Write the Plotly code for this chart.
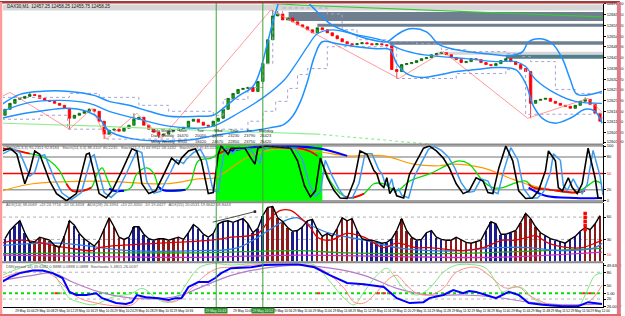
import plotly.graph_objects as go

# ---------------- data ----------------
TIME_LABELS = ["29 May 10:00", "29 May 10:04", "29 May 10:08", "29 May 10:12", "29 May 10:16",
               "29 May 10:20", "29 May 10:24", "29 May 10:28", "29 May 10:32", "29 May 10:36",
               "29 May 10:48", "29 May 10:56",
               "29 May 11:00", "29 May 11:04", "29 May 11:08", "29 May 11:12", "29 May 11:16",
               "29 May 11:20", "29 May 11:24", "29 May 11:28", "29 May 11:32", "29 May 11:36",
               "29 May 11:40", "29 May 11:44", "29 May 11:48", "29 May 11:52", "29 May 11:56",
               "29 May 12:00"]
TICK_POS = [0, 4, 8, 12, 16, 20, 24, 28, 32, 36, 48, 56, 60, 64, 68, 72, 76,
            80, 84, 88, 92, 96, 100, 104, 108, 112, 116, 120]

OPEN0 = 12614.5
CLOSE = [12617.5, 12620.5, 12622.5, 12623.0, 12624.0, 12625.0, 12624.5, 12623.0, 12622.0, 12621.5,
         12620.5, 12619.5, 12618.0, 12613.0, 12614.5, 12615.5, 12616.5, 12617.5, 12616.5, 12611.5,
         12605.0, 12607.0, 12607.5, 12606.5, 12608.0, 12609.5, 12612.5, 12613.5, 12609.5, 12607.5,
         12606.0, 12604.5, 12605.0, 12606.5, 12607.0, 12607.5, 12608.5, 12611.5, 12612.5, 12611.0,
         12609.5, 12609.0, 12611.5, 12613.0, 12617.5, 12623.0, 12625.5, 12627.5, 12628.0, 12628.5,
         12626.5, 12631.5, 12640.5, 12652.5, 12664.5, 12665.5, 12662.5, 12663.5, 12661.5, 12660.0,
         12659.0, 12657.5, 12656.0, 12658.5, 12657.5, 12656.0, 12654.5, 12653.0, 12651.5, 12650.5,
         12650.0, 12650.5, 12651.0, 12650.5, 12650.0, 12650.5, 12650.0, 12649.5, 12637.5, 12636.5,
         12640.0, 12640.5, 12641.0, 12642.0, 12643.0, 12643.5, 12645.0, 12645.5, 12646.0, 12645.0,
         12643.5, 12642.5, 12641.0, 12641.5, 12643.0, 12642.5, 12641.0, 12640.0, 12639.5, 12640.5,
         12642.0, 12643.0, 12641.5, 12640.0, 12638.0, 12636.5, 12620.5, 12622.0, 12622.5, 12623.0,
         12621.5, 12620.5, 12619.5, 12619.0, 12618.0, 12619.5, 12621.5, 12622.5, 12620.0, 12615.5,
         12611.5]
WICK_HIGH = {5: 12626.0, 17: 12618.0, 26: 12615.5, 54: 12667.5, 55: 12667.0, 88: 12646.5, 117: 12623.5}
WICK_LOW = {13: 12607.5, 20: 12602.5, 31: 12603.0, 79: 12633.0, 106: 12613.0}

PRICE_TICKS = [12670.5, 12665.1, 12659.7, 12654.3, 12648.9, 12643.5, 12638.1, 12632.7,
               12627.3, 12621.9, 12616.5, 12611.1, 12605.7, 12601.0]

BAND_UP = [(-0.6, 12620.0), (3, 12625.0), (7, 12626.5), (13, 12626.5), (18, 12624.5), (21, 12621.5),
           (25, 12619.5), (29, 12616.5), (33, 12614.0), (39, 12614.0), (42, 12614.5), (44, 12618.0),
           (47, 12624.0), (50, 12629.0), (51.4, 12636.5), (53, 12651.5), (54.6, 12666.5), (56.2, 12675.5),
           (60, 12675.5), (61.6, 12670.0), (63, 12666.5), (65.6, 12660.5), (69, 12656.5), (73, 12653.0),
           (77, 12651.5), (79, 12655.0), (81.6, 12658.0), (85, 12656.5), (87.6, 12650.0), (91, 12647.5),
           (97, 12645.5), (102, 12644.5), (104.4, 12646.5), (105.6, 12651.5), (108, 12653.0),
           (110.4, 12650.5), (112.4, 12643.0), (114, 12632.5), (115.4, 12625.0), (120.4, 12626.5)]
BAND_LO = [(-0.6, 12613.0), (3, 12615.0), (7, 12616.5), (12.4, 12618.0), (16.4, 12616.5), (19, 12613.0),
           (21, 12606.5), (25, 12603.0), (31, 12601.5), (37, 12602.0), (41.6, 12604.0), (45, 12605.5),
           (49, 12606.5), (52, 12607.5), (54, 12608.5), (56, 12609.5), (58, 12614.0), (59.6, 12621.5),
           (61, 12631.5), (62.4, 12644.0), (64, 12651.5), (67, 12650.5), (71, 12649.0), (75, 12648.0),
           (77.6, 12647.5), (79, 12640.5), (81, 12635.5), (84, 12633.5), (87, 12634.5), (91, 12636.5),
           (95, 12637.5), (99, 12638.5), (103, 12637.5), (105, 12630.5), (106.6, 12619.0),
           (108.6, 12612.5), (111, 12610.5), (114, 12613.0), (117, 12617.5), (119, 12616.5), (120.4, 12610.5)]
BAND_MID = [(-0.6, 12616.5), (5, 12621.0), (11, 12622.0), (17, 12620.5), (21, 12616.5), (27, 12612.5),
            (33, 12609.0), (39, 12608.0), (42, 12609.0), (47, 12615.5), (52.4, 12624.0), (56.4, 12632.5),
            (59, 12641.5), (61, 12649.0), (63, 12655.5), (66, 12657.5), (71, 12655.0), (77, 12651.5),
            (79, 12648.5), (83, 12645.5), (88, 12644.0), (93, 12643.0), (99, 12641.5), (103, 12641.5),
            (105, 12639.0), (107, 12632.5), (111, 12625.5), (115, 12621.5), (120.4, 12620.5)]
DON_UP = [(-0.6, 12623.5), (13, 12625.5), (19, 12623.5), (27, 12619.5), (33, 12616.5), (42, 12614.5),
          (44, 12622.5), (49, 12628.5), (52, 12640.5), (54, 12665.5), (56, 12668.5), (63, 12668.5),
          (65, 12665.5), (68, 12657.5), (71, 12652.5), (77, 12651.5), (83, 12650.5), (88, 12647.5),
          (93, 12646.5), (101, 12645.5), (104, 12644.0), (106, 12641.5), (111, 12627.5), (115, 12625.5),
          (120.4, 12623.5)]
DON_LO = [(-0.6, 12612.5), (7, 12614.5), (12.6, 12607.5), (19, 12607.5), (20.6, 12602.5), (39, 12603.5),
          (43, 12607.5), (49, 12611.5), (52, 12616.5), (54.6, 12621.5), (57, 12628.0), (59, 12635.0),
          (61, 12638.0), (65, 12649.0), (77, 12648.0), (79, 12633.0), (90, 12633.0), (91, 12635.5),
          (101, 12637.5), (105, 12615.0), (119, 12615.5), (120.4, 12612.5)]
ZIGZAG = [(-0.6, 12624.0), (1, 12626.0), (13, 12607.5), (17.6, 12618.0), (20.4, 12602.5), (26.6, 12615.5),
          (31.6, 12603.0), (53.6, 12667.5), (79.4, 12633.0), (88.4, 12646.5), (105.4, 12613.0),
          (117.6, 12623.0), (120.4, 12616.0)]
MA_SLOW = [(-0.6, 12610.5), (19, 12609.0), (39, 12607.0), (63, 12605.0)]
MA_SLOW_TAIL = [(63, 12605.0), (85.6, 12600.0)]
MA_TOP = [(52, 12671.0), (59, 12670.0), (120.4, 12664.0)]
ZONES = [  # (start index, top price, bottom price, colour kind)
    (-0.4, 12670.25, 12667.25, "light"),
    (57.2, 12666.5, 12662.0, "dark"),
    (63.0, 12660.5, 12659.0, "dark"),
    (77.6, 12651.75, 12650.0, "dark"),
    (87.0, 12646.5, 12645.0, "light"),
    (101.0, 12645.0, 12643.0, "teal"),
]
VLINES = [42.6, 52.0]
VLINE_LABELS = ["29 May 10:43", "29 May 10:52"]
GREEN_ZONE = (42.6, 64.0)

# stochastic panel
STO_K = [(-0.6, 91), (1, 96), (2.4, 85), (4, 31), (5, 55), (6, 91), (7, 85), (9, 36), (10.4, 13), (12.4, 0),
         (14.4, 13), (16.4, 85), (17, 87), (18.4, 31), (19, 13), (20.4, 5), (21.6, 18), (23.6, 55), (25.6, 95),
         (26.6, 91), (27.6, 31), (29, 13), (30.4, 18), (32.4, 55), (33.6, 78), (35, 67), (35.6, 78), (37, 91),
         (38.4, 95), (39.6, 73), (41, 13), (42, 15), (43, 85), (43.6, 100), (45, 85), (45.6, 96), (48.4, 96),
         (49.6, 78), (50.4, 67), (51, 96), (52.4, 100), (57.6, 96), (59, 73), (60.4, 27), (61.6, 7), (62.6, 18),
         (63.6, 78), (65, 42), (66.4, 18), (67.6, 5), (69, 4), (70.4, 36), (71.6, 91), (73, 85), (74.4, 55),
         (75, 49), (75.6, 31), (76.4, 24), (77, 42), (77.6, 13), (78.4, 24), (79, 9), (80.4, 5), (81.6, 49),
         (83, 73), (84.4, 96), (85.6, 100), (87, 91), (88.4, 78), (89.6, 60), (91, 31), (92.4, 13), (93.6, 18),
         (95, 42), (96.4, 36), (97.4, 15), (98.4, 13), (99.6, 60), (101, 100), (102.4, 73), (103.6, 18),
         (105, 4), (106.4, 5), (107.6, 18), (109, 55), (109.6, 91), (111, 73), (111.6, 24), (112.4, 18),
         (113.6, 42), (114.4, 24), (115.4, 13), (116.4, 31), (117.6, 96), (119, 42), (119.6, 5), (120.4, 4)]
STO_D = [(-0.6, 85), (1.5, 95), (3, 88), (5, 45), (6, 52), (7, 82), (8, 84), (10, 40), (11.5, 14), (13.4, 2),
         (15.4, 15), (17.4, 80), (18, 84), (19.4, 35), (20, 15), (21.4, 6), (22.6, 16), (24.6, 52), (26.6, 92),
         (27.6, 88), (28.6, 35), (30, 14), (31.4, 17), (33.4, 52), (34.6, 75), (36, 68), (36.6, 76), (38, 88),
         (39.4, 94), (40.6, 74), (42, 18), (43, 16), (44, 80), (44.6, 96), (46, 86), (46.6, 94), (49.4, 95),
         (50.6, 80), (51.4, 68), (52, 92), (53.4, 99), (58.6, 95), (60, 75), (61.4, 30), (62.6, 8), (63.6, 16),
         (64.6, 74), (66, 45), (67.4, 20), (68.6, 6), (70, 4), (71.4, 32), (72.6, 86), (74, 86), (75.4, 56),
         (76, 50), (76.6, 33), (77.4, 26), (78, 40), (78.6, 15), (79.4, 22), (80, 10), (81.4, 5), (82.6, 45),
         (84, 70), (85.4, 94), (86.6, 99), (88, 92), (89.4, 80), (90.6, 62), (92, 33), (93.4, 15), (94.6, 17),
         (96, 40), (97.4, 36), (98.4, 17), (99.4, 13), (100.6, 55), (102, 97), (103.4, 75), (104.6, 22),
         (106, 5), (107.4, 5), (108.6, 16), (110, 52), (110.6, 86), (112, 74), (112.6, 28), (113.4, 19),
         (114.6, 40), (115.4, 26), (116.4, 13), (117.4, 30), (118.6, 92), (120, 45), (120.6, 10)]
STO_SLOW = [(-0.6, 96), (2, 92), (5, 86), (7, 82), (9, 73), (11, 55), (12.4, 31), (13.6, 18), (15.6, 18),
            (17.4, 24), (18.6, 49), (19.6, 60), (20.6, 40), (21.4, 24), (22, 18), (24, 18), (25.4, 24),
            (26.6, 49), (28.6, 60), (30, 50), (31, 25), (32, 19), (36.4, 20), (37.4, 31), (39, 73), (41.6, 78),
            (43, 86), (45, 93), (48, 96), (53, 99), (58, 97), (60, 95), (63, 82), (65.6, 36), (67.6, 13),
            (69.6, 5), (72.4, 13), (74.4, 31), (76.4, 31), (79, 18), (81.6, 36), (85.6, 49), (89.6, 67),
            (91.6, 73), (93.6, 67), (96.4, 36), (98.4, 24), (100.4, 24), (102.4, 31), (105, 36), (106.6, 24),
            (110, 20), (115, 15), (117, 24), (119, 36), (120.4, 31)]
STO_SLOW_RED = [[(-0.6, 96), (2, 92), (5, 86)], [(12.4, 31), (13.6, 18), (15.6, 18), (17.4, 24)],
                [(43, 86), (45, 93), (47, 95)], [(59, 96), (60, 95), (61.6, 90), (63, 82)],
                [(68.6, 8), (69.6, 5), (72.4, 13)], [(105.6, 30), (106.6, 24), (110, 20), (115, 15), (117, 18)]]
STO_SLOW_BLUE = [[(21, 22), (22, 18), (24, 18)], [(31, 25), (32, 19), (36.4, 20)],
                 [(45.6, 91), (52.4, 100), (63, 96), (69, 82)], [(105.6, 24), (109, 9), (115, 5), (120.4, 5)]]
STO_ORANGE = [(-0.6, 18), (5.6, 31), (19, 36), (32.4, 31), (39, 40), (42.4, 42), (45.6, 60), (49, 80),
              (52.4, 91), (57, 95), (63, 90), (69, 82), (76.4, 82), (82.4, 67), (87.6, 64), (90.4, 67),
              (96.4, 60), (101.6, 42), (105, 31), (109, 22)]
STO_LEVELS = [100, 80, 20, 0]
STO_MID = 50

# histogram panel
HIST = [31, 42, 49, 55, 39, 26, 27, 33, 31, 29, 22, 19, 35, 55, 49, 38, 31, 26, 21, 29,
        45, 59, 47, 33, 30, 33, 47, 47, 37, 31, 29, 31, 31, 29, 31, 33, 30, 39, 50, 45,
        37, 33, 38, 51, 54, 55, 53, 55, 58, 51, 39, 45, 62, 73, 74, 59, 54, 46, 41, 42,
        47, 55, 57, 43, 34, 38, 34, 45, 59, 55, 58, 42, 31, 29, 29, 27, 25, 26, 31, 42,
        58, 42, 33, 29, 30, 39, 42, 33, 30, 29, 29, 33, 30, 26, 25, 27, 29, 42, 54, 51,
        37, 37, 39, 42, 53, 65, 58, 47, 39, 35, 31, 29, 27, 25, 30, 34, 41, 46, 43, 51, 62]
HIST_RUNS = [("b", 6), ("r", 8), ("b", 5), ("r", 6), ("b", 6), ("r", 6), ("b", 16), ("r", 5), ("b", 5),
             ("r", 8), ("b", 8), ("r", 4), ("b", 6), ("r", 8), ("b", 6), ("r", 6), ("b", 8), ("r", 4)]
HIST_RED = [(-0.6, 25), (3, 29), (12.4, 19), (17.6, 15), (19, 19), (41.6, 29), (45.6, 33), (51, 38),
            (53.6, 59), (55.6, 69), (57.6, 69), (59.6, 59), (61.6, 46), (63, 33), (65.6, 29), (69, 38),
            (72.4, 33), (76.4, 19), (79, 25), (83, 19), (85.6, 19), (92.4, 15), (96.4, 19), (100.4, 29),
            (103, 29), (105.6, 33), (107, 35), (109.6, 25), (113.6, 19), (116.4, 19), (119, 25), (120.4, 29)]
HIST_BLUE = [(-0.6, 22), (11, 25), (25, 15), (39, 15), (47, 19), (56.4, 55), (59, 59), (61.6, 49),
             (65.6, 38), (72.4, 29), (79, 19), (85.6, 15), (92.4, 15), (99, 19), (105.6, 19), (112.4, 15),
             (119, 19), (120.4, 25)]
HIST_GREEN = [(-0.6, 11), (19, 12), (39, 12), (59, 15), (69, 12), (89, 11), (109, 15), (120.4, 18)]
HIST_MAGENTA = [(-0.6, 9), (19, 7), (39, 6), (59, 9), (79, 7), (99, 6), (120.4, 13)]
HIST_MARKS = [(117, 64.7), (117, 59.3), (117, 54.0), (117, 48.7), (117, 43.3)]
HIST_ARROW = ((41.6, 52.7), (50.4, 67.3))

# bottom panel
LOW_BLUE = [(-0.6, 58), (1, 69), (3, 78), (5.6, 84), (7.6, 84), (9.6, 78), (11.6, 67), (13, 36), (14.4, 29),
            (16.4, 29), (18.4, 33), (19.6, 22), (22.4, 11), (24.4, 9), (25.6, 13), (26.6, 29), (28.4, 24),
            (31, 22), (33, 18), (34.4, 22), (35.6, 22), (37, 47), (39, 58), (41, 58), (42.4, 67), (43.6, 78),
            (45.6, 89), (49.6, 91), (52.4, 96), (56.4, 98), (59, 98), (62.4, 91), (65.6, 73), (69, 56),
            (72.4, 53), (76.4, 47), (77.6, 36), (79, 22), (81.6, 11), (84.4, 13), (85.6, 22), (88.4, 29),
            (90.4, 40), (92.4, 33), (93.6, 38), (95, 36), (97, 29), (99, 22), (101.6, 36), (103.6, 29),
            (105.6, 11), (108.4, 7), (112.4, 4), (115.6, 4), (117.6, 13), (120.4, 9)]
LOW_VIOLET = [(-0.6, 62), (5.6, 73), (9.6, 78), (13.6, 58), (19, 36), (25.6, 22), (32.4, 22), (35.6, 29),
              (39, 44), (45.6, 73), (52.4, 89), (59, 96), (65.6, 89), (72.4, 73), (79, 44), (85.6, 29),
              (92.4, 29), (99, 24), (105.6, 13), (112.4, 7), (120.4, 9)]
LOW_GREEN = [(-0.6, 73), (3, 89), (7, 99), (9.6, 80), (11.6, 44), (13, 22), (15, 13), (17.6, 7), (19, 11),
             (21.6, 24), (25.6, 33), (27.6, 44), (29, 36), (30.4, 22), (32.4, 13), (34.4, 18), (36.4, 51),
             (39, 89), (41.6, 99), (43, 99), (45.6, 96), (49.6, 99), (56.4, 99), (59, 99), (62.4, 96),
             (65.6, 58), (68.4, 22), (70.4, 7), (72.4, 36), (75, 73), (77, 89), (78.4, 73), (80.4, 44),
             (83, 29), (85.6, 44), (88.4, 80), (91, 96), (95, 96), (97, 89), (99, 58), (100.4, 36),
             (102.4, 47), (104.4, 44), (106.4, 22), (109, 7), (112.4, 3), (115.6, 3), (117, 29), (119, 73),
             (120.4, 78)]
LOW_RED = [(-0.6, 67), (3, 80), (7, 84), (9.6, 73), (12.4, 44), (15, 22), (17.6, 13), (20.4, 7), (23, 4),
           (25.6, 7), (27.6, 24), (30.4, 22), (33.6, 13), (35.6, 22), (37.6, 44), (40.4, 73), (43, 89),
           (45.6, 91), (52.4, 98), (59, 98), (63, 91), (65.6, 73), (68.4, 44), (70.4, 13), (72.4, 11),
           (75, 36), (77.6, 67), (79, 73), (81, 51), (83, 33), (85.6, 29), (88.4, 44), (91, 80), (95, 91),
           (97.6, 73), (100.4, 47), (101.6, 44), (103.6, 47), (105.6, 29), (109, 11), (112.4, 4),
           (117.6, 13), (120.4, 51)]
LOW_LEVEL = 33
LOW_LEVEL_RED = [(10, 11.4), (63, 63.6), (75, 78.4), (116.4, 119)]
LOW_GRID = [80, 50, 20]

# ---------------- geometry helpers ----------------
W, H = 625, 316
ML, MR, MT, MB = 3, 17, 1, 9
PLOT_W = W - ML - MR
PLOT_H = H - MT - MB


def yf(px):
    return (H - MB - px) / PLOT_H


def xf(px):
    return (px - ML) / PLOT_W


def xs(pts):
    return [p[0] for p in pts]


def ys(pts):
    return [p[1] for p in pts]


# ---------------- build ----------------
opens = [OPEN0] + CLOSE[:-1]
highs, lows = [], []
for k, (o, c) in enumerate(zip(opens, CLOSE)):
    highs.append(WICK_HIGH.get(k, max(o, c)))
    lows.append(WICK_LOW.get(k, min(o, c)))
idx = list(range(len(CLOSE)))

fig = go.Figure()


def line(pts, axis, color, width=1.0, dash="solid", shape="linear"):
    fig.add_trace(go.Scatter(x=xs(pts), y=ys(pts), xaxis="x", yaxis=axis, mode="lines",
                             line=dict(color=color, width=width, dash=dash, shape=shape),
                             hoverinfo="skip", showlegend=False))


# main panel overlays (under candles)
line(MA_SLOW, "y", "#90ee90", 1.2, shape="spline")
line(MA_SLOW_TAIL, "y", "#90ee90", 1.2, "dot")
line(MA_TOP, "y", "#33cc33", 1.2)
line(DON_UP, "y", "#a3a3d6", 1.0, "dot", "hv")
line(DON_LO, "y", "#a3a3d6", 1.0, "dot", "hv")
line(ZIGZAG, "y", "#ff8080", 0.8)
line(BAND_MID, "y", "#1e90ff", 1.3, shape="spline")
line(BAND_UP, "y", "#1e90ff", 1.5, shape="spline")
line(BAND_LO, "y", "#1e90ff", 1.5, shape="spline")

fig.add_trace(go.Candlestick(
    x=idx, open=opens, high=highs, low=lows, close=CLOSE, xaxis="x", yaxis="y",
    increasing=dict(line=dict(color="#006400", width=0.8), fillcolor="#1fa31f"),
    decreasing=dict(line=dict(color="#ff0000", width=0.8), fillcolor="#ff0000"),
    whiskerwidth=0, hoverinfo="skip", showlegend=False))

# stochastic panel
line(STO_ORANGE, "y2", "#ff9900", 1.2, shape="spline")
line(STO_SLOW, "y2", "#00dd00", 1.3, shape="spline")
for seg in STO_SLOW_RED:
    line(seg, "y2", "#ff0000", 1.8, shape="spline")
for seg in STO_SLOW_BLUE:
    line(seg, "y2", "#0000ff", 2.0, shape="spline")
line(STO_D, "y2", "#3d9cf0", 1.5)
line(STO_K, "y2", "#000000", 1.6)

# histogram panel
colors = []
for kind, n in HIST_RUNS:
    colors += [("#1c1c8c" if kind == "b" else "#8b1a1a")] * n
fig.add_trace(go.Bar(x=idx, y=HIST, xaxis="x", yaxis="y3", width=0.38,
                     marker=dict(color=colors, line=dict(width=0)),
                     hoverinfo="skip", showlegend=False))
line(HIST_MAGENTA, "y3", "#d030d0", 1.3, shape="spline")
line(HIST_GREEN, "y3", "#22aa22", 1.3, shape="spline")
line(HIST_BLUE, "y3", "#2f7fe0", 1.3, shape="spline")
line(HIST_RED, "y3", "#dd0000", 1.3, shape="spline")
fig.add_trace(go.Scatter(x=idx, y=HIST, xaxis="x", yaxis="y3", mode="lines",
                         line=dict(color="#000000", width=1.4), hoverinfo="skip", showlegend=False))
fig.add_trace(go.Scatter(x=xs(HIST_MARKS), y=ys(HIST_MARKS), xaxis="x", yaxis="y3", mode="markers",
                         marker=dict(symbol="square", size=3.5, color="#ff0000"),
                         hoverinfo="skip", showlegend=False))

# bottom panel
line([(-0.4, LOW_LEVEL), (120.6, LOW_LEVEL)], "y4", "#00e000", 2.0, "dot")
for a, b in LOW_LEVEL_RED:
    line([(a, LOW_LEVEL), (b, LOW_LEVEL)], "y4", "#ff2020", 2.0, "dot")
line(LOW_VIOLET, "y4", "#b57cc9", 1.2, shape="spline")
line(LOW_GREEN, "y4", "#7ee67e", 1.0, shape="spline")
line(LOW_RED, "y4", "#ff8c8c", 1.0, shape="spline")
line(LOW_BLUE, "y4", "#0000ff", 2.0)

# ---------------- shapes ----------------
shapes = []
zone_col = {"light": "#d6d6d6", "dark": "#6f7f8f", "teal": "#4f7f8c"}
for x0, top, bot, kind in ZONES:
    shapes.append(dict(type="rect", xref="x", yref="y", x0=x0, x1=120.6, y0=bot, y1=top,
                       fillcolor=zone_col[kind], line=dict(width=0), layer="below"))
shapes.append(dict(type="rect", xref="x", yref="y2", x0=GREEN_ZONE[0], x1=GREEN_ZONE[1], y0=-1.8, y1=101.8,
                   fillcolor="#00ff00", line=dict(width=0), layer="below"))
for lv in STO_LEVELS:
    shapes.append(dict(type="line", xref="paper", yref="y2", x0=0, x1=1, y0=lv, y1=lv,
                       line=dict(color="#a0a0a0", width=1.5), layer="below"))
shapes.append(dict(type="line", xref="paper", yref="y2", x0=0, x1=1, y0=STO_MID, y1=STO_MID,
                   line=dict(color="#ff0000", width=1.5), layer="below"))
for lv in (60, 30):
    shapes.append(dict(type="line", xref="paper", yref="y3", x0=0, x1=1, y0=lv, y1=lv,
                       line=dict(color="#b0b0b0", width=1, dash="dot"), layer="below"))
for lv in LOW_GRID:
    shapes.append(dict(type="line", xref="paper", yref="y4", x0=0, x1=1, y0=lv, y1=lv,
                       line=dict(color="#b0b0b0", width=1, dash="dot"), layer="below"))
for vx in VLINES:
    shapes.append(dict(type="line", xref="x", yref="paper", x0=vx, x1=vx, y0=0, y1=yf(0),
                       line=dict(color="#3aa53a", width=1)))
# panel separators
for py in (143.5, 201.5, 262.0):
    shapes.append(dict(type="line", xref="paper", yref="paper", x0=xf(0), x1=xf(608), y0=yf(py), y1=yf(py),
                       line=dict(color="#8a8a8a", width=2)))
# window frame
shapes += [
    dict(type="rect", xref="paper", yref="paper", x0=xf(0), x1=xf(625), y0=yf(1.6), y1=yf(-1),
         fillcolor="#a33a3a", line=dict(width=0)),
    dict(type="rect", xref="paper", yref="paper", x0=xf(-1), x1=xf(2.2), y0=yf(317), y1=yf(0),
         fillcolor="#ff9a9a", line=dict(width=0)),
    dict(type="rect", xref="paper", yref="paper", x0=xf(622), x1=xf(626), y0=yf(317), y1=yf(0),
         fillcolor="#df7a8a", line=dict(width=0)),
    dict(type="rect", xref="paper", yref="paper", x0=xf(0), x1=xf(626), y0=yf(317), y1=yf(314),
         fillcolor="#e06a6a", line=dict(width=0)),
]

# ---------------- annotations ----------------
ann = []


def text(px, py, s, color="#222222", size=4, anchor="left"):
    ann.append(dict(xref="paper", yref="paper", x=xf(px), y=yf(py), text=s, showarrow=False,
                    xanchor=anchor, yanchor="middle", font=dict(family="Liberation Sans", size=size, color=color)))


text(5, 5, "DAX30,M1  12457.25 12458.25 12455.75 12458.25", size=4.5)
text(4, 146.5, "Stoch(5,3,3) 95.2351 92.8184   Stoch(14,3,3) 88.4107 80.2235   Stoch(21,7,7) 63.9912 58.1432   "
               "Stoch(55,9,9) 45.0217 41.2209   Stoch(89,13,13) 38.6640 36.1120", color="#555555")
text(4, 204, "ADX(14) 38.0069  +DI 24.7716  -DI 16.3458   ADX(28) 26.3394  +DI 22.4050  -DI 19.4427   "
             "ADX(55) 20.0531 19.6642 18.8443", color="#555555")
text(4, 266, "DMI(period 14) 49.6382 0.8888 0.0888 0.0888  Stochastic 5.4815 26.0037", color="#555555")

table_cols = [185, 203, 220, 236, 252, 268]
rows = [("Daily Weekly", ["Mon", "Tue", "Wed", "Thur", "Fri", "Monday"]),
        ("Daily Weekly", ["16470", "20050", "24730", "23230", "23790", "26423"]),
        ("Mthly Weekly", ["8900", "18420", "24670", "22850", "23750", "26420"])]
for r, (head, vals) in enumerate(rows):
    py = 129 + r * 5.5
    text(150, py, head)
    for cx, v in zip(table_cols, vals):
        text(cx, py, v, anchor="center")

for vx, lab in zip(VLINES, VLINE_LABELS):
    ann.append(dict(xref="x", yref="paper", x=vx, y=yf(310.5), text=lab, showarrow=False,
                    xanchor="center", yanchor="middle", bgcolor="#2e8b2e", borderpad=0.5,
                    font=dict(family="Liberation Sans", size=3.4, color="#ffffff")))

(ax0, ay0), (ax1, ay1) = HIST_ARROW
ann.append(dict(xref="x", yref="y3", x=ax1, y=ay1, axref="x", ayref="y3", ax=ax0, ay=ay0, text="",
                showarrow=True, arrowhead=7, arrowsize=0.8, arrowwidth=0.8, arrowcolor="#222222"))

# ---------------- axes ----------------
yaxis_common = dict(side="right", anchor="x", showgrid=False, zeroline=False, showline=True,
                    linecolor="#000000", linewidth=1, ticks="outside", ticklen=2, tickcolor="#000000",
                    tickfont=dict(family="Liberation Sans", size=4, color="#000000"), fixedrange=True)


def red(s):
    return '<span style="color:#ff0000">' + s + "</span>"


fig.update_layout(
    width=W, height=H, margin=dict(l=ML, r=MR, t=MT, b=MB, pad=0),
    paper_bgcolor="#ffffff", plot_bgcolor="#ffffff", showlegend=False, bargap=0,
    xaxis=dict(range=[-0.4, 120.6], anchor="y4", showgrid=False, zeroline=False, showline=True,
               linecolor="#000000", linewidth=1, ticks="", tickvals=TICK_POS, ticktext=TIME_LABELS,
               tickangle=0, tickfont=dict(family="Liberation Sans", size=3.2, color="#000000"),
               rangeslider=dict(visible=False), fixedrange=True),
    yaxis=dict(domain=[yf(143), yf(2)], range=[12600, 12670.5], tickvals=PRICE_TICKS,
               ticktext=["%.2f" % v for v in PRICE_TICKS], **yaxis_common),
    yaxis2=dict(domain=[yf(201), yf(144)], range=[-1.8, 101.8], tickvals=[100, 80, 50, 20, 0],
                ticktext=["100", "80", red("50"), "20", "0"], **yaxis_common),
    yaxis3=dict(domain=[yf(261), yf(202)], range=[0.67, 79.3], tickvals=[60, 30, 10],
                ticktext=["60", "30", red("10")], **yaxis_common),
    yaxis4=dict(domain=[0, yf(263)], range=[2.2, 100], tickvals=[95.5, 80, 50, 33.3, 20, 3],
                ticktext=["49.6382", "80", "50", "1.00", "20", "26.0037"], **yaxis_common),
    shapes=shapes, annotations=ann,
)

fig.write_html("out.html")
